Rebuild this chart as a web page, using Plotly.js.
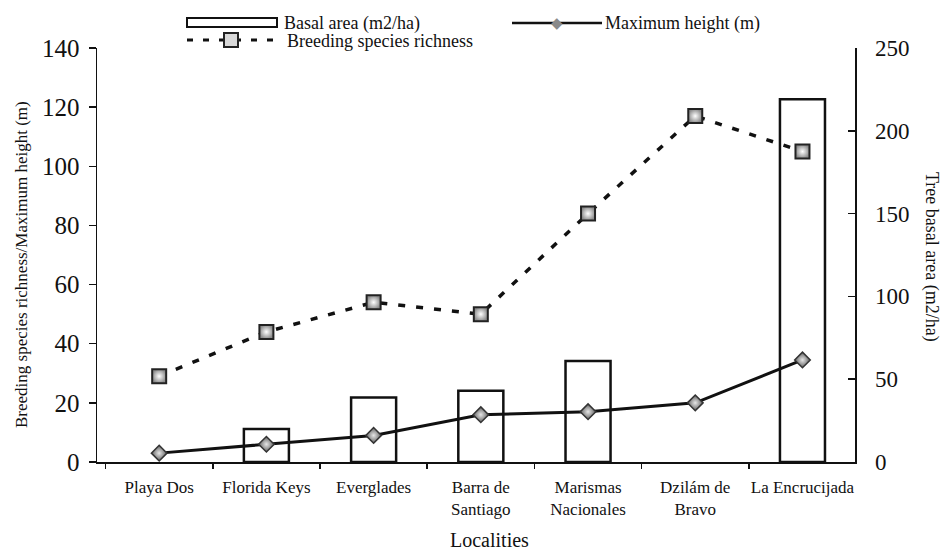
<!DOCTYPE html>
<html>
<head>
<meta charset="utf-8">
<script src="https://cdn.plot.ly/plotly-3.0.1.min.js"></script>
<style>html,body{margin:0;padding:0;background:#fff;}#chart{width:941px;height:552px;}</style>
</head>
<body>
<div id="chart"></div>
<script>
// ---- data ----
const localities = ["Playa Dos", "Florida Keys", "Everglades", "Barra de<br>Santiago", "Marismas<br>Nacionales", "Dzilám de<br>Bravo", "La Encrucijada"];
const basalArea = [null, 20, 39, 43, 61, null, 219];    // m2/ha (right axis); no bar drawn where null
const maxHeight = [3, 6, 9, 16, 17, 20, 34.5];          // m (left axis)
const speciesRichness = [29, 44, 54, 50, 84, 117, 105]; // left axis
const leftTicks = [0, 20, 40, 60, 80, 100, 120, 140];
const rightTicks = [0, 50, 100, 150, 200, 250];

const serif = "Liberation Serif, Times New Roman, serif";
const ink = "#111";

// plot-area geometry helpers (pixels -> paper)
const L = 97, R = 855, T = 48, B = 462;
const px = x => (x - L) / (R - L);
const py = y => (B - y) / (B - T);

const traces = [
  {
    type: "bar", name: "Basal area (m2/ha)", x: localities, y: basalArea,
    xaxis: "x", yaxis: "y", width: 0.42,
    marker: {color: "rgba(255,255,255,0)", line: {color: ink, width: 2.5}},
    showlegend: false, hoverinfo: "x+y"
  },
  {
    type: "scatter", mode: "lines+markers", name: "Maximum height (m)",
    x: localities, y: maxHeight, xaxis: "x", yaxis: "y2",
    line: {color: ink, width: 3},
    marker: {symbol: "diamond", size: 12, color: "#5e5e5e",
             gradient: {type: "radial", color: "#e6e6e6"},
             line: {color: "#333", width: 1.5}},
    showlegend: false
  },
  {
    type: "scatter", mode: "lines+markers", name: "Breeding species richness",
    x: localities, y: speciesRichness, xaxis: "x", yaxis: "y2",
    line: {color: ink, width: 3.5, dash: "7px,11px"},
    marker: {symbol: "square", size: 14, color: "#8c8c8c",
             gradient: {type: "radial", color: "#ffffff"},
             line: {color: "#222", width: 2}},
    showlegend: false
  }
];

const shapes = [
  // legend: bar swatch
  {type: "rect", xref: "paper", yref: "paper", x0: px(187), x1: px(277), y0: py(27), y1: py(18),
   line: {color: ink, width: 2}, fillcolor: "rgba(0,0,0,0)"},
  // legend: max height line
  {type: "line", xref: "paper", yref: "paper", x0: px(512), x1: px(602), y0: py(23), y1: py(23),
   line: {color: ink, width: 2.5}},
  // legend: species richness dashed line
  {type: "line", xref: "paper", yref: "paper", x0: px(187), x1: px(283), y0: py(40), y1: py(40),
   line: {color: ink, width: 3, dash: "6px,10px"}}
];

const lf = {family: serif, size: 18, color: ink};
const annotations = [
  {xref: "paper", yref: "paper", x: px(282), y: py(24), xanchor: "left", yanchor: "middle",
   text: "Basal area (m2/ha)", showarrow: false, font: lf},
  {xref: "paper", yref: "paper", x: px(603), y: py(24), xanchor: "left", yanchor: "middle",
   text: "Maximum height (m)", showarrow: false, font: lf},
  {xref: "paper", yref: "paper", x: px(285), y: py(41), xanchor: "left", yanchor: "middle",
   text: "Breeding species richness", showarrow: false, font: lf},
  // legend markers
  {xref: "paper", yref: "paper", x: px(557), y: py(23), xanchor: "center", yanchor: "middle",
   text: "◆", showarrow: false, font: {family: "DejaVu Sans", size: 15, color: "#8a8a8a"}},
  {xref: "paper", yref: "paper", x: px(231), y: py(40), xanchor: "center", yanchor: "middle",
   text: "", showarrow: false, width: 12, height: 12, bgcolor: "#d8d8d8", bordercolor: "#222", borderwidth: 2, borderpad: 0},
  // axis titles
  {xref: "paper", yref: "paper", x: px(21), y: py(265), xanchor: "center", yanchor: "middle", textangle: -90,
   text: "Breeding species richness/Maximum height (m)", showarrow: false,
   font: {family: serif, size: 17, color: ink}},
  {xref: "paper", yref: "paper", x: px(932), y: py(257), xanchor: "center", yanchor: "middle", textangle: 90,
   text: "Tree basal area (m2/ha)", showarrow: false,
   font: {family: serif, size: 18, color: ink}},
  {xref: "paper", yref: "paper", x: px(489), y: py(540), xanchor: "center", yanchor: "middle",
   text: "Localities", showarrow: false, font: {family: serif, size: 20, color: ink}}
];

const layout = {
  width: 941, height: 552,
  margin: {l: L, r: 941 - R, t: T, b: 552 - B, pad: 0},
  paper_bgcolor: "#fff", plot_bgcolor: "#fff",
  showlegend: false,
  xaxis: {
    type: "category", range: [-0.58, 6.49], showline: true, linecolor: ink, linewidth: 1.5,
    ticks: "outside", tickson: "boundaries", ticklen: 5, tickwidth: 1.5, tickcolor: ink,
    tickangle: 0, ticklabelstandoff: 9,
    showgrid: false, zeroline: false,
    tickfont: {family: serif, size: 17, color: ink}
  },
  yaxis: {
    side: "right", range: [0, 250], tickvals: rightTicks, showline: true, linecolor: ink, linewidth: 1.5,
    ticks: "inside", ticklen: 7, tickwidth: 1.5, tickcolor: ink, ticklabelstandoff: 14,
    showgrid: false, zeroline: false,
    tickfont: {family: serif, size: 23, color: ink}
  },
  yaxis2: {
    overlaying: "y", side: "left", range: [0, 140], tickvals: leftTicks, showline: true, linecolor: ink, linewidth: 1.5,
    ticks: "outside", ticklen: 7, tickwidth: 1.5, tickcolor: ink, ticklabelstandoff: 4,
    showgrid: false, zeroline: false,
    tickfont: {family: serif, size: 25, color: ink}
  },
  shapes: shapes,
  annotations: annotations,
  font: {family: serif, color: ink}
};

Plotly.newPlot("chart", traces, layout, {displayModeBar: false, staticPlot: true});
</script>
</body>
</html>
